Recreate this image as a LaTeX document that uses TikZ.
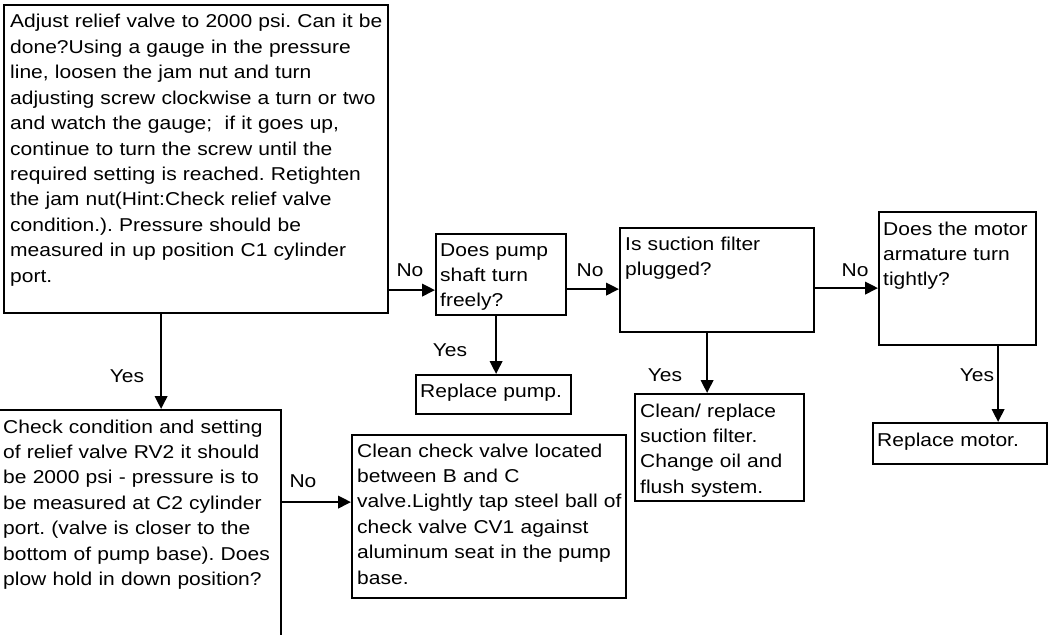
\documentclass[tikz,border=0pt]{standalone}
\usepackage{fontspec}
\setmainfont{Liberation Sans}[FakeStretch=1.13]
\usetikzlibrary{arrows.meta}
\frenchspacing
\begin{document}
\begin{tikzpicture}[x=1pt,y=-1pt,
  box/.style={draw=black,line width=2.2pt,rectangle,inner sep=0pt,anchor=north west},
  txt/.style={inner sep=0pt,anchor=base west,text width=420pt,align=left,font=\fontsize{18.6}{25.4}\selectfont\frenchspacing},
  lbl/.style={inner sep=0pt,font=\fontsize{18.6}{25.4}\selectfont},
  arr/.style={line width=2.2pt,-{Triangle[length=13pt,width=12.5pt]}}]
\path[use as bounding box,clip] (0,0) rectangle (1051,634);
\fill[white] (0,0) rectangle (1051,634);
% boxes
\node[box,minimum width=384pt,minimum height=308pt] (A) at (3,4) {};
\node[box,minimum width=285pt,minimum height=400pt] (B) at (-5,409) {};
\node[box,minimum width=130pt,minimum height=81pt] (C) at (435,233) {};
\node[box,minimum width=155pt,minimum height=39pt] (D) at (415,374) {};
\node[box,minimum width=194pt,minimum height=104pt] (E) at (619,227) {};
\node[box,minimum width=169pt,minimum height=107pt] (F) at (634,393) {};
\node[box,minimum width=157pt,minimum height=133pt] (G) at (878,211) {};
\node[box,minimum width=174pt,minimum height=41pt] (H) at (872,422) {};
\node[box,minimum width=274pt,minimum height=163pt] (I) at (351,434) {};
% texts
\node[txt] (tA) at (10,28) {Adjust relief valve to 2000 psi. Can it be\\done?Using a gauge in the pressure\\line, loosen the jam nut and turn\\adjusting screw clockwise a turn or two\\and watch the gauge; \ if it goes up,\\continue to turn the screw until the\\required setting is reached. Retighten\\the jam nut(Hint:Check relief valve\\condition.). Pressure should be\\measured in up position C1 cylinder\\port.};
\node[txt] (tB) at (3,433) {Check condition and setting\\of relief valve RV2 it should\\be 2000 psi - pressure is to\\be measured at C2 cylinder\\port. (valve is closer to the\\bottom of pump base). Does\\plow hold in down position?};
\node[txt] (tC) at (440,256) {Does pump\\shaft turn\\freely?};
\node[txt] (tD) at (420,397) {Replace pump.};
\node[txt] (tE) at (625,250) {Is suction filter\\plugged?};
\node[txt] (tF) at (640,417) {Clean/ replace\\suction filter.\\Change oil and\\flush system.};
\node[txt] (tG) at (883,235) {Does the motor\\armature turn\\tightly?};
\node[txt] (tH) at (877,446) {Replace motor.};
\node[txt] (tI) at (357,457) {Clean check valve located\\between B and C\\valve.Lightly tap steel ball of\\check valve CV1 against\\aluminum seat in the pump\\base.};
% connector end points
\coordinate (cin) at ([yshift=-15.5pt]C.west);
\coordinate (ein) at ([yshift=-9pt]E.west);
\coordinate (gin) at ([yshift=-9.5pt]G.west);
\coordinate (bin) at ([xshift=22.5pt]B.north);
\coordinate (din) at ([xshift=2.5pt]D.north);
\coordinate (fin) at ([xshift=-12.5pt]F.north);
\coordinate (hin) at ([xshift=38pt]H.north);
\coordinate (iin) at ([yshift=14.5pt]I.west);
% connectors
\draw[arr] (A.east |- cin) -- (cin);
\draw[arr] (C.east |- ein) -- (ein);
\draw[arr] (E.east |- gin) -- (gin);
\draw[arr] (A.south -| bin) -- (bin);
\draw[arr] (C.south -| din) -- (din);
\draw[arr] (E.south -| fin) -- (fin);
\draw[arr] (G.south -| hin) -- (hin);
\draw[arr] (B.east |- iin) -- (iin);
% labels
\node[lbl] (l1) at (410,270) {No};
\node[lbl] (l2) at (590,270) {No};
\node[lbl] (l3) at (855,270) {No};
\node[lbl] (l4) at (127,376) {Yes};
\node[lbl] (l5) at (450,350) {Yes};
\node[lbl] (l6) at (665,375) {Yes};
\node[lbl] (l7) at (977,375) {Yes};
\node[lbl] (l8) at (303,481) {No};
\end{tikzpicture}
\end{document}
